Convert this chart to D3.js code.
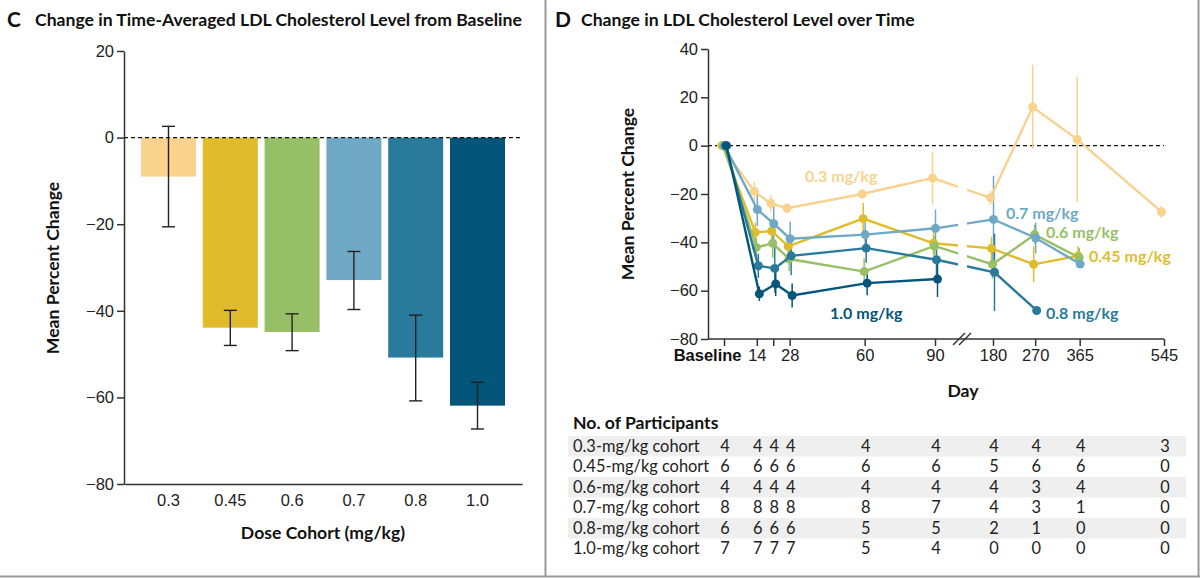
<!DOCTYPE html>
<html>
<head>
  <meta http-equiv="Content-Type" content="text/html;charset=utf-8">
  <title>LDL Cholesterol</title>
  <script src="https://d3js.org/d3.v7.min.js"></script>
  <style type="text/css">
    body { margin: 0; background: #fff; }
    svg { font-family: Lato, "Open Sans", sans-serif; }
    .axis path, .axis line { stroke: #333; stroke-width: 1.5; }
    .axis text { font-size: 16.5px; fill: #222; }
    .ttl { font-size: 17.6px; font-weight: bold; fill: #111; }
    .lbl { font-size: 17.6px; font-weight: bold; fill: #111; }
    .zero { stroke: #111; stroke-width: 1.2; stroke-dasharray: 4,3; }
    .cell { font-size: 16.4px; fill: #222; }
  </style>
</head>
<body>
  <svg width="1200" height="578"></svg>
  <script type='text/javascript'>
    // panel C: time-averaged change by dose cohort
    const doses = ['0.3', '0.45', '0.6', '0.7', '0.8', '1.0'];
    const barMean = [-9.0, -43.9, -44.9, -32.9, -50.8, -61.9];
    const barHigh = [2.6, -39.9, -40.7, -26.3, -41.0, -56.5];
    const barLow = [-20.6, -48.0, -49.2, -39.7, -60.8, -67.3];
    const colors = ['#f9d28e', '#e0bc2c', '#97c066', '#70a9c5', '#2a7a9c', '#04557a'];

    // panel D: change over time
    const days = [0, 14, 21, 28, 60, 90, 180, 270, 365, 545];
    const dayTicks = [0, 14, 21, 28, 60, 90, 180, 270, 365, 545];
    const ldl03 = [0, -18.9, -23.9, -25.9, -20.0, -13.4, -21.6, 16.0, 2.6, -27.4];
    const ldl045 = [0, -35.9, -35.3, -41.7, -30.2, -40.4, -42.5, -49.1, -45.6, null];
    const ldl06 = [0, -42.1, -40.4, -46.9, -52.1, -41.5, -49.1, -36.8, -46.3, null];
    const ldl07 = [0, -26.4, -32.3, -38.5, -36.8, -34.2, -30.5, -38.2, -49.0, null];
    const ldl08 = [0, -49.7, -50.8, -45.6, -42.4, -47.2, -52.4, -68.2, null, null];
    const ldl10 = [0, -61.3, -57.2, -62.0, -56.9, -55.2, null, null, null, null];
    const err03 = [0, 4, 3.4, 2, 2, 11, 3, 17.5, 26, 2.5];
    const err045 = [0, 4, 5, 4, 6.6, 5, 4.8, 7.4, 4, null];
    const err06 = [0, 4, 6, 5, 5.5, 4, 6, 4, 4, null];
    const err07 = [0, 7, 8, 7, 6, 7.8, 18, 6.4, 0, null];
    const err08 = [0, 5, 10, 8, 6, 7, 16, 0, null, null];
    const err10 = [0, 3, 5, 5, 5, 7.4, null, null, null, null];
    const seriesLabels = ['0.3 mg/kg', '0.45 mg/kg', '0.6 mg/kg', '0.7 mg/kg', '0.8 mg/kg', '1.0 mg/kg'];

    // no. of participants
    const cohortNames = ['0.3-mg/kg cohort', '0.45-mg/kg cohort', '0.6-mg/kg cohort',
      '0.7-mg/kg cohort', '0.8-mg/kg cohort', '1.0-mg/kg cohort'];
    const n03 = [4, 4, 4, 4, 4, 4, 4, 4, 4, 3];
    const n045 = [6, 6, 6, 6, 6, 6, 5, 6, 6, 0];
    const n06 = [4, 4, 4, 4, 4, 4, 4, 3, 4, 0];
    const n07 = [8, 8, 8, 8, 8, 7, 4, 3, 1, 0];
    const n08 = [6, 6, 6, 6, 5, 5, 2, 1, 0, 0];
    const n10 = [7, 7, 7, 7, 5, 4, 0, 0, 0, 0];

    const svg = d3.select('svg');
    const fmt = (d) => d < 0 ? '\u2212' + Math.abs(d) : String(d);

    // frame
    svg.append('line').attr('x1', 545.5).attr('x2', 545.5).attr('y1', 0).attr('y2', 577)
      .attr('stroke', '#999').attr('stroke-width', 2);
    svg.append('line').attr('x1', 1198.5).attr('x2', 1198.5).attr('y1', 0).attr('y2', 577)
      .attr('stroke', '#999').attr('stroke-width', 2);
    svg.append('line').attr('x1', 0).attr('x2', 1200).attr('y1', 576.5).attr('y2', 576.5)
      .attr('stroke', '#999').attr('stroke-width', 2);

    // ---------- panel C ----------
    const gC = svg.append('g');
    gC.append('text').attr('x', 7).attr('y', 27).attr('class', 'ttl')
      .style('font-size', '21px').text('C');
    gC.append('text').attr('x', 35).attr('y', 26).attr('class', 'ttl')
      .text('Change in Time-Averaged LDL Cholesterol Level from Baseline');

    const xC = d3.scaleBand().domain(doses).range([124, 522])
      .paddingInner(0.11).paddingOuter(0.275);
    const yC = d3.scaleLinear().domain([-80, 20]).range([484, 51]);

    gC.append('g').attr('class', 'axis')
      .attr('transform', 'translate(124,0)')
      .call(d3.axisLeft(yC).tickValues([20, 0, -20, -40, -60, -80])
        .tickSize(7).tickSizeOuter(0).tickFormat(fmt));

    gC.append('g').attr('class', 'axis')
      .attr('transform', 'translate(0,484)')
      .call(d3.axisBottom(xC).tickSize(0).tickPadding(10).tickSizeOuter(0));

    gC.selectAll('rect.bar').data(doses).enter()
      .append('rect')
      .attr('class', 'bar')
      .attr('x', (d) => xC(d))
      .attr('width', xC.bandwidth())
      .attr('y', yC(0))
      .attr('height', (d, i) => yC(barMean[i]) - yC(0))
      .attr('fill', (d, i) => colors[i]);

    gC.append('line').attr('class', 'zero')
      .attr('x1', 124).attr('x2', 522).attr('y1', yC(0)).attr('y2', yC(0));

    const eb = gC.selectAll('g.err').data(doses).enter().append('g')
      .attr('transform', (d) => `translate(${xC(d) + xC.bandwidth() / 2},0)`);
    eb.append('line').attr('y1', (d, i) => yC(barHigh[i])).attr('y2', (d, i) => yC(barLow[i]))
      .attr('stroke', '#222').attr('stroke-width', 1.4);
    eb.append('line').attr('x1', -6.5).attr('x2', 6.5)
      .attr('y1', (d, i) => yC(barHigh[i])).attr('y2', (d, i) => yC(barHigh[i]))
      .attr('stroke', '#222').attr('stroke-width', 1.4);
    eb.append('line').attr('x1', -6.5).attr('x2', 6.5)
      .attr('y1', (d, i) => yC(barLow[i])).attr('y2', (d, i) => yC(barLow[i]))
      .attr('stroke', '#222').attr('stroke-width', 1.4);

    gC.append('text').attr('class', 'lbl').attr('text-anchor', 'middle')
      .attr('x', 323).attr('y', 539).text('Dose Cohort (mg/kg)');
    gC.append('text').attr('class', 'lbl').attr('text-anchor', 'middle')
      .attr('transform', 'translate(59,268) rotate(-90)').text('Mean Percent Change');

    // ---------- panel D ----------
    const gD = svg.append('g');
    gD.append('text').attr('x', 555).attr('y', 27).attr('class', 'ttl')
      .style('font-size', '21px').text('D');
    gD.append('text').attr('x', 581).attr('y', 26).attr('class', 'ttl')
      .text('Change in LDL Cholesterol Level over Time');

    const xD = d3.scaleLinear().domain([0, 90, 180, 545]).range([724, 935, 993, 1164]);
    const yD = d3.scaleLinear().domain([-80, 40]).range([339, 49]);

    gD.append('g').attr('class', 'axis')
      .attr('transform', 'translate(708,0)')
      .call(d3.axisLeft(yD).tickValues([40, 20, 0, -20, -40, -60, -80])
        .tickSize(7).tickSizeOuter(0).tickFormat(fmt));

    const xAxD = gD.append('g').attr('class', 'axis')
      .attr('transform', 'translate(0,339)')
      .call(d3.axisBottom(xD).tickValues(dayTicks).tickSize(7).tickSizeOuter(0)
        .tickFormat((d) => d === 0 ? 'Baseline' : (d === 21 ? '' : d)));
    xAxD.select('.domain').attr('d', 'M708,0H1164');
    xAxD.selectAll('.tick text').filter((d) => d === 0)
      .attr('text-anchor', 'end').attr('x', 17)
      .style('font-weight', 'bold').style('fill', '#111');

    // axis break mark
    [0, 6].forEach((o) => {
      gD.append('line').attr('x1', 953 + o).attr('y1', 345).attr('x2', 965 + o).attr('y2', 333)
        .attr('stroke', '#333').attr('stroke-width', 1.4);
    });

    gD.append('line').attr('class', 'zero')
      .attr('x1', 708).attr('x2', 1164).attr('y1', yD(0)).attr('y2', yD(0));

    gD.append('text').attr('class', 'lbl').attr('text-anchor', 'middle')
      .attr('x', 963).attr('y', 397).text('Day');
    gD.append('text').attr('class', 'lbl').attr('text-anchor', 'middle')
      .attr('transform', 'translate(634,194) rotate(-90)').text('Mean Percent Change');

    // clip out the axis break from the lines
    const clip = svg.append('defs').append('clipPath').attr('id', 'brk');
    clip.append('rect').attr('x', 700).attr('y', 0).attr('width', 958 - 700).attr('height', 578);
    clip.append('rect').attr('x', 967).attr('y', 0).attr('width', 1200 - 967).attr('height', 578);

    const seriesVals = [ldl03, ldl045, ldl06, ldl07, ldl08, ldl10];
    const seriesErr = [err03, err045, err06, err07, err08, err10];
    const series = seriesVals.map((vals, s) => ({
      color: colors[s],
      pts: days.map((d, j) => ({ day: d, v: vals[j], e: seriesErr[s][j], dx: (s - 2.5) * 1.0 }))
        .filter((p) => p.v !== null)
    }));

    const line = d3.line().x((p) => xD(p.day) + p.dx).y((p) => yD(p.v));

    // error bars first
    series.forEach((s) => {
      gD.append('g').selectAll('line').data(s.pts.filter((p) => p.e > 0)).enter()
        .append('line')
        .attr('x1', (p) => xD(p.day) + p.dx).attr('x2', (p) => xD(p.day) + p.dx)
        .attr('y1', (p) => yD(p.v + p.e)).attr('y2', (p) => yD(p.v - p.e))
        .attr('stroke', s.color).attr('stroke-width', 1.5);
    });

    series.forEach((s) => {
      gD.append('path').datum(s.pts)
        .attr('d', line)
        .attr('clip-path', 'url(#brk)')
        .attr('fill', 'none').attr('stroke', s.color).attr('stroke-width', 2.4);
      gD.append('g').selectAll('circle').data(s.pts).enter()
        .append('circle')
        .attr('cx', (p) => xD(p.day) + p.dx).attr('cy', (p) => yD(p.v))
        .attr('r', 4.5).attr('fill', s.color);
    });

    // series labels
    const labelPos = [[805, 182], [1089, 262], [1046, 238], [1006, 219], [1046, 319], [830, 319]];
    gD.selectAll('text.serlbl').data(seriesLabels).enter()
      .append('text').attr('class', 'serlbl')
      .attr('x', (d, i) => labelPos[i][0]).attr('y', (d, i) => labelPos[i][1])
      .attr('fill', (d, i) => colors[i])
      .style('font-size', '16px').style('font-weight', 'bold')
      .text((d) => d);

    // ---------- participants table ----------
    const gT = svg.append('g');
    gT.append('text').attr('x', 573).attr('y', 429).attr('class', 'lbl').text('No. of Participants');
    const rows = [n03, n045, n06, n07, n08, n10];
    const rowY = d3.scaleBand().domain(cohortNames).range([436, 559]);

    gT.selectAll('rect.band').data(cohortNames.filter((d, i) => i % 2 === 0)).enter()
      .append('rect')
      .attr('x', 568).attr('width', 1186 - 568)
      .attr('y', (d) => rowY(d)).attr('height', rowY.bandwidth())
      .attr('fill', '#efefef');

    const rowG = gT.selectAll('g.row').data(cohortNames).enter().append('g')
      .attr('transform', (d) => `translate(0,${rowY(d) + rowY.bandwidth() / 2 + 5.5})`);
    rowG.append('text').attr('class', 'cell').attr('x', 573).text((d) => d);
    rowG.each(function (d, i) {
      d3.select(this).selectAll('text.num').data(rows[i]).enter()
        .append('text').attr('class', 'cell num')
        .attr('text-anchor', 'middle')
        .attr('x', (v, j) => xD(days[j]) + 1)
        .text((v) => v);
    });
  </script>
</body>
</html>
